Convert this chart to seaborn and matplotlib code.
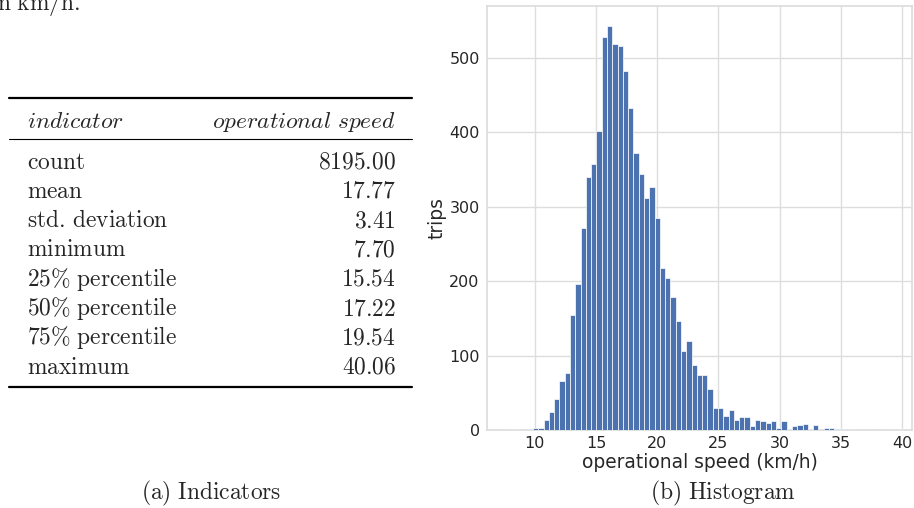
import numpy as np
import pandas as pd
import matplotlib
matplotlib.use("Agg")
import matplotlib.pyplot as plt
import seaborn as sns

# ---------------- data ----------------
indicators = ["count", "mean", "std. deviation", "minimum",
              "25% percentile", "50% percentile", "75% percentile", "maximum"]
values = [8195.00, 17.77, 3.41, 7.70, 15.54, 17.22, 19.54, 40.06]

speed_min = 7.70
speed_max = 40.06
trip_counts = [2, 1, 0, 0, 1, 3, 3, 14, 24, 42, 66, 77,
               155, 196, 271, 340, 357, 402,
               528, 543, 519, 516, 482, 433,
               373, 344, 312, 327, 285, 218,
               204, 179, 147, 106, 119, 87,
               74, 74, 55, 30, 30, 19,
               27, 13, 18, 18, 6, 13,
               12, 9, 12, 3, 12, 2,
               5, 7, 8, 1, 7, 0,
               3, 3, 1, 1, 0, 1, 0, 1, 0, 0, 0, 0, 1, 0, 1]
x_ticks = [10, 15, 20, 25, 30, 35, 40]
y_ticks = [0, 100, 200, 300, 400, 500]

# ---------------- figure ----------------
sns.set_theme(style="whitegrid")
plt.rcParams["mathtext.fontset"] = "cm"
plt.rcParams["font.family"] = ["DejaVu Sans"]

W, H = 914, 508
fig = plt.figure(figsize=(W / 100, H / 100), dpi=100)


def fx(px):
    return px / W


def fy(py):
    return 1 - py / H


def rm(s):
    s = s.replace("%", r"\%").replace(". ", r".\,").replace(" ", r"\ ")
    return r"$\mathrm{" + s + "}$"


TFS = 16.9
# cropped prose line at the top-left
fig.text(fx(-3), fy(9.5), rm("n km/h."), ha="left", va="baseline", fontsize=TFS)

# booktabs-like table
fig.add_artist(plt.Line2D([fx(9), fx(412)], [fy(97.5), fy(97.5)], color="black", lw=1.6))
fig.add_artist(plt.Line2D([fx(9), fx(412)], [fy(139), fy(139)], color="black", lw=0.8))
fig.add_artist(plt.Line2D([fx(9), fx(412)], [fy(386.5), fy(386.5)], color="black", lw=1.6))
fig.text(fx(27), fy(128), r"$\mathit{indicator}$", ha="left", va="baseline", fontsize=TFS)
fig.text(fx(396), fy(128), r"$\mathit{operational\ speed}$", ha="right", va="baseline", fontsize=TFS)
row_y0, row_dy = 168.5, 29.3
for i, (name, val) in enumerate(zip(indicators, values)):
    yb = row_y0 + i * row_dy
    fig.text(fx(27), fy(yb), rm(name), ha="left", va="baseline", fontsize=TFS)
    fig.text(fx(396), fy(yb), rm(f"{val:.2f}"), ha="right", va="baseline", fontsize=TFS)

# captions
fig.text(fx(211), fy(499), rm("(a) Indicators"), ha="center", va="baseline", fontsize=TFS)
fig.text(fx(723), fy(499), rm("(b) Histogram"), ha="center", va="baseline", fontsize=TFS)

# ---------------- histogram ----------------
n_bins = len(trip_counts)
width = (speed_max - speed_min) / n_bins
centers = speed_min + width * (np.arange(n_bins) + 0.5)
df = pd.DataFrame({"speed": centers, "trips": trip_counts})

ax = fig.add_axes([fx(487.3), fy(430), fx(912) - fx(487.3), fy(6) - fy(430)])
sns.histplot(data=df, x="speed", weights="trips", bins=n_bins,
             binrange=(speed_min, speed_max), ax=ax,
             color="#4C72B0", alpha=1, edgecolor="white", linewidth=0.5,
             zorder=3)
ax.set_xlim(6.13, 40.8)
ax.set_ylim(0, 570)
ax.set_xticks(x_ticks)
ax.set_yticks(y_ticks)
ax.tick_params(labelsize=11.5, colors="#262626", length=0)
ax.tick_params(axis="y", pad=5.5)
ax.tick_params(axis="x", pad=4)
ax.set_xlabel("operational speed (km/h)", fontsize=13.4, color="#262626", labelpad=2)
ax.set_ylabel("trips", fontsize=13.4, color="#262626", labelpad=2)
for s in ax.spines.values():
    s.set_color("#dddddd")
    s.set_zorder(2)
ax.grid(color="#dddddd", lw=1)
ax.set_axisbelow(True)

fig.savefig("out.png", dpi=100)
